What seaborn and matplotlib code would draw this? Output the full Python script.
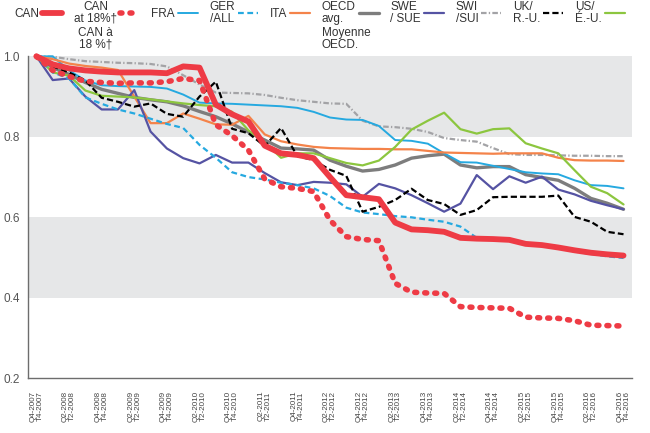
import matplotlib.pyplot as plt
import seaborn as sns

# quarters Q4-2007 .. Q4-2016 (37 points), labels every second quarter
quarter_idx = list(range(37))
tick_pos = list(range(0, 37, 2))
tick_labels = [
    "Q4-2007\nT4-2007", "Q2-2008\nT2-2008", "Q4-2008\nT4-2008", "Q2-2009\nT2-2009",
    "Q4-2009\nT4-2009", "Q2-2010\nT2-2010", "Q4-2010\nT4-2010", "Q2-2011\nT2-2011",
    "Q4-2011\nT4-2011", "Q2-2012\nT2-2012", "Q4-2012\nT4-2012", "Q2-2013\nT2-2013",
    "Q4-2013\nT4-2013", "Q2-2014\nT2-2014", "Q4-2014\nT4-2014", "Q2-2015\nT2-2015",
    "Q4-2015\nT4-2015", "Q2-2016\nT2-2016", "Q4-2016\nT4-2016",
]

can = [1.0, 0.98, 0.97, 0.965, 0.962, 0.96, 0.96, 0.96, 0.958, 0.975, 0.972, 0.88, 0.856,
       0.838, 0.778, 0.759, 0.755, 0.747, 0.70, 0.655, 0.65, 0.645, 0.587, 0.570, 0.568,
       0.564, 0.549, 0.547, 0.546, 0.544, 0.534, 0.531, 0.525, 0.518, 0.512, 0.508, 0.505]
can_18 = [1.0, 0.965, 0.95, 0.938, 0.935, 0.933, 0.934, 0.934, 0.937, 0.945, 0.94, 0.83,
          0.803, 0.767, 0.695, 0.676, 0.672, 0.664, 0.593, 0.552, 0.545, 0.542, 0.436, 0.414,
          0.412, 0.411, 0.378, 0.376, 0.375, 0.374, 0.352, 0.350, 0.349, 0.343, 0.332, 0.331,
          0.330]
fra = [1.0, 1.0, 0.965, 0.94, 0.928, 0.926, 0.925, 0.924, 0.92, 0.905, 0.885, 0.883, 0.882,
       0.88, 0.878, 0.876, 0.872, 0.862, 0.848, 0.843, 0.842, 0.827, 0.792, 0.79, 0.783,
       0.759, 0.737, 0.736, 0.728, 0.72, 0.712, 0.709, 0.707, 0.692, 0.68, 0.678, 0.672]
ger = [1.0, 0.96, 0.945, 0.898, 0.882, 0.868, 0.858, 0.845, 0.832, 0.822, 0.78, 0.748, 0.712,
       0.70, 0.694, 0.686, 0.68, 0.672, 0.653, 0.624, 0.612, 0.608, 0.603, 0.600, 0.594,
       0.589, 0.577, 0.549, 0.545, 0.543, 0.533, 0.530, 0.524, 0.515, 0.509, 0.503, 0.499]
ita = [1.0, 0.993, 0.982, 0.976, 0.972, 0.966, 0.90, 0.834, 0.834, 0.858, 0.845, 0.831, 0.83,
       0.852, 0.806, 0.789, 0.781, 0.775, 0.772, 0.771, 0.770, 0.770, 0.769, 0.769, 0.765,
       0.761, 0.76, 0.759, 0.758, 0.759, 0.759, 0.759, 0.748, 0.742, 0.741, 0.741, 0.740]
oecd = [1.0, 0.972, 0.955, 0.935, 0.918, 0.908, 0.898, 0.892, 0.887, 0.877, 0.863, 0.85,
        0.832, 0.812, 0.792, 0.772, 0.770, 0.767, 0.742, 0.727, 0.715, 0.719, 0.73, 0.747,
        0.753, 0.757, 0.730, 0.723, 0.726, 0.726, 0.706, 0.699, 0.692, 0.672, 0.647, 0.635,
        0.620]
swe = [1.0, 0.941, 0.945, 0.90, 0.868, 0.868, 0.916, 0.813, 0.771, 0.747, 0.734, 0.755, 0.736,
       0.736, 0.71, 0.687, 0.68, 0.688, 0.686, 0.682, 0.651, 0.683, 0.672, 0.655, 0.635,
       0.614, 0.634, 0.705, 0.670, 0.702, 0.686, 0.701, 0.669, 0.657, 0.641, 0.630, 0.620]
swi = [1.0, 0.999, 0.993, 0.988, 0.986, 0.984, 0.983, 0.981, 0.975, 0.953, 0.93, 0.91, 0.909,
       0.908, 0.904, 0.897, 0.891, 0.887, 0.883, 0.882, 0.84, 0.826, 0.824, 0.82, 0.812,
       0.797, 0.792, 0.788, 0.772, 0.757, 0.755, 0.755, 0.754, 0.753, 0.753, 0.752, 0.752]
uk = [1.0, 0.975, 0.96, 0.94, 0.897, 0.887, 0.875, 0.883, 0.857, 0.85, 0.90, 0.937, 0.82,
      0.809, 0.777, 0.822, 0.752, 0.742, 0.718, 0.703, 0.614, 0.626, 0.643, 0.671, 0.643,
      0.633, 0.606, 0.618, 0.65, 0.651, 0.651, 0.651, 0.654, 0.601, 0.589, 0.564, 0.558]
us = [1.0, 0.96, 0.952, 0.915, 0.902, 0.90, 0.898, 0.893, 0.888, 0.883, 0.879, 0.876, 0.862,
      0.816, 0.786, 0.748, 0.759, 0.759, 0.747, 0.735, 0.729, 0.741, 0.775, 0.818, 0.84,
      0.860, 0.819, 0.808, 0.819, 0.821, 0.784, 0.771, 0.759, 0.717, 0.676, 0.660, 0.632]

legend_labels = ["CAN", "CAN\nat 18%†", "FRA", "GER\n/ALL", "ITA", "OECD\navg.",
                 "SWE\n/ SUE", "SWI\n/SUI", "UK/\nR.-U.", "US/\nÉ.-U."]

sns.set_theme(style="white")
plt.rcParams['font.family'] = ['Liberation Sans', 'DejaVu Sans']

fig = plt.figure(figsize=(6.5, 4.33), dpi=100)
ax = fig.add_axes([0.0435, 0.1263, 0.9283, 0.7436])

# grey bands
ax.axhspan(0.4, 0.6, color='#e6e7e8', lw=0, zorder=0)
ax.axhspan(0.8, 1.0, color='#e6e7e8', lw=0, zorder=0)

red = '#ee3b45'
blue = '#26a9e0'
styles = [
    (can, dict(color=red, lw=4.2, zorder=10)),
    (can_18, dict(color=red, lw=4.0, linestyle=(0, (0.35, 1.45)), dash_capstyle='round', zorder=9)),
    (fra, dict(color=blue, lw=1.4, zorder=4)),
    (ger, dict(color=blue, lw=1.6, linestyle=(0, (2.6, 1.6)), zorder=5)),
    (ita, dict(color='#f4834a', lw=1.6, zorder=4)),
    (oecd, dict(color='#7d7d7d', lw=2.4, zorder=3)),
    (swe, dict(color='#5553a3', lw=1.6, zorder=4)),
    (swi, dict(color='#a3a3a6', lw=1.6, linestyle=(0, (2.5, 1.0, 0.6, 1.0)), zorder=3)),
    (uk, dict(color='black', lw=1.6, linestyle=(0, (2.8, 1.4)), zorder=6)),
    (us, dict(color='#8cc63f', lw=1.6, zorder=4)),
]

handles = []
for values, kw in styles:
    sns.lineplot(x=quarter_idx, y=values, ax=ax, **kw)
    line = ax.get_lines()[-1]
    line.set_clip_on(False)
    handles.append(line)

ax.set_xlim(-0.5, 36.5)
ax.set_ylim(0.2, 1.0)
ax.set_yticks([0.2, 0.4, 0.6, 0.8, 1.0])
ax.set_yticklabels(["0.2", "0.4", "0.6", "0.8", "1.0"])
ax.set_xticks(tick_pos)
ax.set_xticklabels(tick_labels, rotation=90, fontsize=5.8, color='#444444',
                   ha='center', va='top', linespacing=1.0)
ax.set_xticks([i + 0.5 for i in range(-1, 37)], minor=True)
ax.tick_params(axis='x', which='major', length=0, pad=9)
ax.tick_params(axis='x', which='minor', length=3.5, width=0.8, color='#555555', direction='out')
ax.tick_params(axis='y', length=0, pad=6, labelsize=8.5, labelcolor='#555555')
for s in ['top', 'right']:
    ax.spines[s].set_visible(False)
for s in ['left', 'bottom']:
    ax.spines[s].set_color('#6d6d6d')
    ax.spines[s].set_linewidth(1.0)
ax.set_xlabel("")
ax.set_ylabel("")
if ax.get_legend() is not None:
    ax.get_legend().remove()

leg = fig.legend(handles, legend_labels, loc='upper left', bbox_to_anchor=(0.022, 0.998),
                 ncol=10, frameon=False, markerfirst=False, fontsize=8.5,
                 handlelength=1.7, handletextpad=0.25, columnspacing=0.98,
                 borderpad=0, borderaxespad=0, labelspacing=0.2)
for t in leg.get_texts():
    t.set_color('#333333')
    t.set_linespacing(1.0)
leg.get_texts()[1].set_multialignment('center')

# French second parts of the two long legend labels
fig.canvas.draw()
inv = fig.transFigure.inverted()
for i, extra, align in [(1, "CAN à\n18 %†", 'center'), (5, "Moyenne\nOECD.", 'left')]:
    bb = leg.get_texts()[i].get_window_extent()
    (x0, y0), (x1, y1) = inv.transform([[bb.x0, bb.y0], [bb.x1, bb.y1]])
    xpos = (x0 + x1) / 2 if align == 'center' else x0
    fig.text(xpos, y0 - 0.004, extra, ha=align, va='top', fontsize=8.5,
             color='#333333', linespacing=1.0, multialignment=align)

fig.savefig("out.png", dpi=100)
